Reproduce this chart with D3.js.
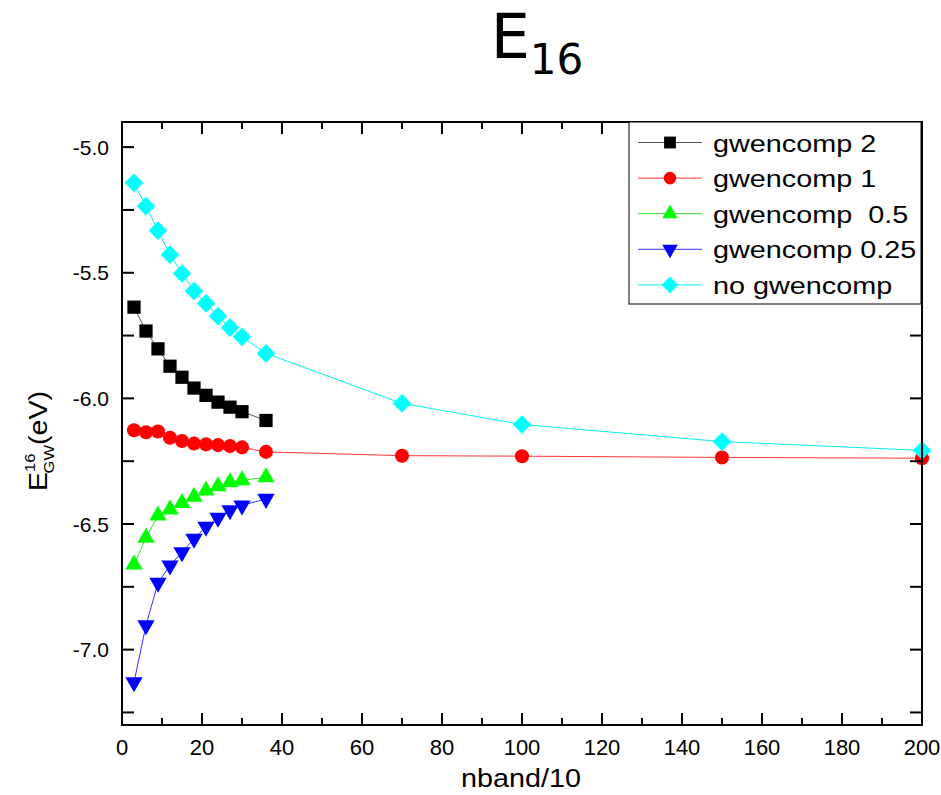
<!DOCTYPE html>
<html><head><meta charset="utf-8">
<script src="https://cdn.jsdelivr.net/npm/d3@7/dist/d3.min.js"></script>
<style>body{margin:0;background:#fff}svg{display:block}text{font-family:Arial,"Liberation Sans",sans-serif}</style>
</head><body><svg id="c" width="941" height="795"></svg>
<script>
const xShort = [3,6,9,12,15,18,21,24,27,30,36];
const xLong = [3,6,9,12,15,18,21,24,27,30,36,70,100,150,200];
const gwencomp2 = [-5.637,-5.732,-5.803,-5.872,-5.916,-5.959,-5.988,-6.015,-6.035,-6.053,-6.088];
const gwencomp1 = [-6.127,-6.135,-6.132,-6.157,-6.170,-6.180,-6.183,-6.186,-6.190,-6.195,-6.213,-6.228,-6.230,-6.235,-6.238];
const gwencomp05 = [-6.661,-6.555,-6.466,-6.442,-6.416,-6.392,-6.367,-6.350,-6.334,-6.326,-6.314];
const gwencomp025 = [-7.130,-6.903,-6.734,-6.665,-6.612,-6.559,-6.511,-6.475,-6.445,-6.426,-6.400];
const noGwencomp = [-5.142,-5.235,-5.332,-5.428,-5.503,-5.573,-5.622,-5.673,-5.718,-5.755,-5.821,-6.020,-6.104,-6.172,-6.207];
const xTicks = [0,20,40,60,80,100,120,140,160,180,200];
const yTicks = [-5.0,-5.5,-6.0,-6.5,-7.0];

const series = [
  {name:"gwencomp 2", x:xShort, y:gwencomp2, color:"#000000", line:"#555555", sym:d3.symbolSquare, size:175, rot:0},
  {name:"gwencomp 1", x:xLong, y:gwencomp1, color:"#ff0000", line:"#ff3333", sym:d3.symbolCircle, size:155, rot:0},
  {name:"gwencomp  0.5", x:xShort, y:gwencomp05, color:"#00ff00", line:"#33dd33", sym:d3.symbolTriangle, size:130, rot:0},
  {name:"gwencomp 0.25", x:xShort, y:gwencomp025, color:"#0000ff", line:"#3333ff", sym:d3.symbolTriangle, size:130, rot:180},
  {name:"no gwencomp", x:xLong, y:noGwencomp, color:"#00ffff", line:"#00eeee", sym:d3.symbolSquare, size:175, rot:45}
];

const svg = d3.select("#c");
const L=122, R=922, T=122, B=725;
const x = d3.scaleLinear().domain([0,200]).range([L,R]);
const y = d3.scaleLinear().domain([-4.9,-7.3]).range([T,B]);

// lines
const line = d3.line().x(d=>x(d[0])).y(d=>y(d[1]));
series.forEach(s=>{
  const pts = s.x.map((v,i)=>[v,s.y[i]]);
  svg.append("path").attr("d",line(pts)).attr("fill","none").attr("stroke",s.line).attr("stroke-width",1);
});
// markers
series.forEach(s=>{
  const sym = d3.symbol().type(s.sym).size(s.size);
  svg.append("g").selectAll("path").data(s.x.map((v,i)=>[v,s.y[i]])).join("path")
    .attr("d",sym)
    .attr("transform",d=>`translate(${x(d[0])},${y(d[1])}) rotate(${s.rot})`)
    .attr("fill",s.color);
});

// axes (inward ticks, mirrored)
const xMinor = d3.range(10,200,20);
const yMinor = [-5.25,-5.75,-6.25,-6.75,-7.25];
const ax = svg.append("g").attr("stroke","#000").attr("stroke-width",2);
xTicks.forEach(t=>{
  ax.append("line").attr("x1",x(t)).attr("x2",x(t)).attr("y1",B).attr("y2",B-12);
  ax.append("line").attr("x1",x(t)).attr("x2",x(t)).attr("y1",T).attr("y2",T+12);
});
xMinor.forEach(t=>{
  ax.append("line").attr("x1",x(t)).attr("x2",x(t)).attr("y1",B).attr("y2",B-7);
  ax.append("line").attr("x1",x(t)).attr("x2",x(t)).attr("y1",T).attr("y2",T+7);
});
yTicks.concat(yMinor).forEach(t=>{
  ax.append("line").attr("x1",L).attr("x2",L+12).attr("y1",y(t)).attr("y2",y(t));
  ax.append("line").attr("x1",R).attr("x2",R-12).attr("y1",y(t)).attr("y2",y(t));
});
svg.append("rect").attr("x",L).attr("y",T).attr("width",R-L).attr("height",B-T)
  .attr("fill","none").attr("stroke","#000").attr("stroke-width",2);

// tick labels
svg.append("g").selectAll("text").data(xTicks).join("text")
  .attr("x",d=>x(d)).attr("y",755).attr("text-anchor","middle")
  .attr("font-size",22).text(d=>d);
svg.append("g").selectAll("text").data(yTicks).join("text")
  .attr("x",109).attr("y",d=>y(d)+7.5).attr("text-anchor","end")
  .attr("font-size",21).text(d=>d.toFixed(1));

// axis titles
svg.append("text").attr("transform","translate(521,787) scale(1.15,1)").attr("text-anchor","middle").attr("font-size",25).text("nband/10");
const yl = svg.append("text").attr("transform","translate(47,441) rotate(-90) scale(1.1,1)").attr("text-anchor","middle").attr("font-size",26);
yl.append("tspan").text("E");
yl.append("tspan").attr("font-size",15).attr("dy",-12).text("16");
yl.append("tspan").attr("font-size",15).attr("dx",-18).attr("dy",19).text("GW");
yl.append("tspan").attr("dy",-7).text("(eV)");

// title
const tt = svg.append("text").attr("x",537).attr("y",58).attr("text-anchor","middle")
  .style("font-family","'DejaVu Sans',Verdana,sans-serif");
tt.append("tspan").attr("font-size",62).text("E");
tt.append("tspan").attr("font-size",42).attr("dy",16).text("16");

// legend
const lg = svg.append("g");
lg.append("rect").attr("x",629).attr("y",122).attr("width",292).attr("height",182)
  .attr("fill","#fff").attr("stroke","#000").attr("stroke-width",1);
series.forEach((s,i)=>{
  const cy = 142.5 + i*35.6;
  lg.append("line").attr("x1",638).attr("x2",702).attr("y1",cy).attr("y2",cy).attr("stroke",s.line).attr("stroke-width",1);
  lg.append("path").attr("d",d3.symbol().type(s.sym).size(s.size*0.8))
    .attr("transform",`translate(670,${cy}) rotate(${s.rot})`).attr("fill",s.color);
  lg.append("text").attr("transform",`translate(713,${cy+9}) scale(1.2,1)`).attr("font-size",24)
    .style("white-space","pre").text(s.name);
});
</script></body></html>
